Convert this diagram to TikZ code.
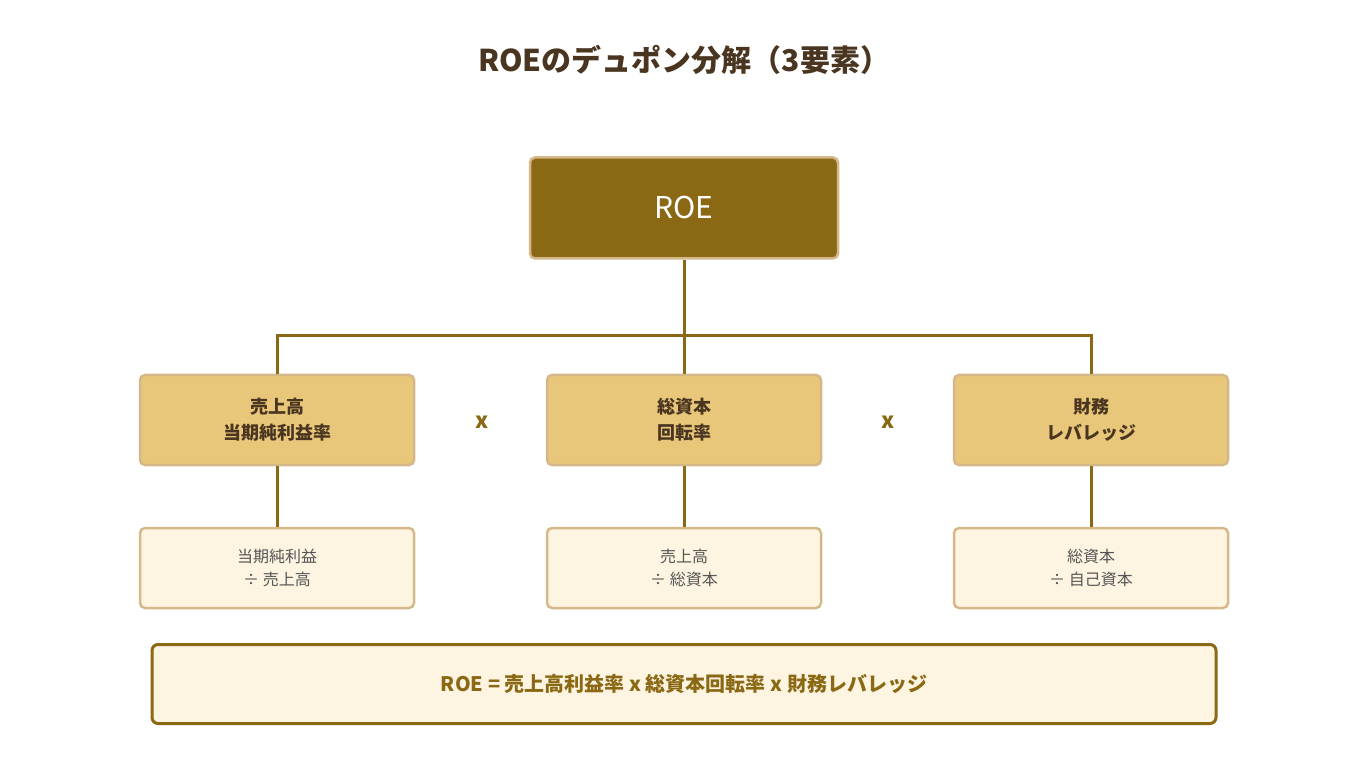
\documentclass[tikz,border=0pt]{standalone}
\usepackage{fontspec}
\setmainfont{Noto Sans CJK JP}
\definecolor{gold}{HTML}{8B6914}
\definecolor{tan}{HTML}{E8C77A}
\definecolor{edge}{HTML}{D4B88A}
\definecolor{cream}{HTML}{FDF5E2}
\definecolor{dark}{HTML}{4A3520}
\definecolor{grey}{HTML}{555555}
\begin{document}
\begin{tikzpicture}[x=1pt,y=-1pt,
 roebox/.style={draw=edge,line width=2.5pt,fill=gold,rounded corners=5pt,minimum width=308pt,minimum height=101pt,text=white,font=\fontsize{30}{34}\selectfont},
 midbox/.style={draw=edge,line width=2.5pt,fill=tan,rounded corners=5pt,minimum width=274pt,minimum height=90pt,text=dark,font=\fontsize{18}{26}\selectfont\bfseries,align=center},
 lowbox/.style={draw=edge,line width=2.5pt,fill=cream,rounded corners=5pt,minimum width=274pt,minimum height=80pt,text=grey,font=\fontsize{16}{23}\selectfont,align=center},
 conn/.style={gold,line width=3pt},
 times/.style={text=gold,font=\fontsize{22}{26}\selectfont\bfseries}]
\useasboundingbox (0,0) rectangle (1368,783);
\node[text=dark,font=\fontsize{30}{34}\selectfont\bfseries] (title) at (684,60) {ROEのデュポン分解（3要素）};
\node[roebox] (roe) at (684,208) {ROE};
\node[midbox] (a) at (277,420) {売上高\\当期純利益率};
\node[midbox] (b) at (684,420) {総資本\\回転率};
\node[midbox] (c) at (1091,420) {財務\\レバレッジ};
\node[times] (x1) at (482,422) {x};
\node[times] (x2) at (888,422) {x};
\node[lowbox] (a2) at (277,568) {当期純利益\\÷ 売上高};
\node[lowbox] (b2) at (684,568) {売上高\\÷ 総資本};
\node[lowbox] (c2) at (1091,568) {総資本\\÷ 自己資本};
\coordinate (j) at (684,336);
\draw[conn] (roe.south) -- (b.north);
\draw[conn] (a.north) |- (j) -| (c.north);
\draw[conn] (a.south) -- (a2.north);
\draw[conn] (b.south) -- (b2.north);
\draw[conn] (c.south) -- (c2.north);
\node[draw=gold,line width=3pt,fill=cream,rounded corners=6pt,minimum width=1064pt,minimum height=79pt,text=gold,font=\fontsize{20}{24}\selectfont\bfseries] (f) at (684,684) {ROE = 売上高利益率 x 総資本回転率 x 財務レバレッジ};
\end{tikzpicture}
\end{document}
